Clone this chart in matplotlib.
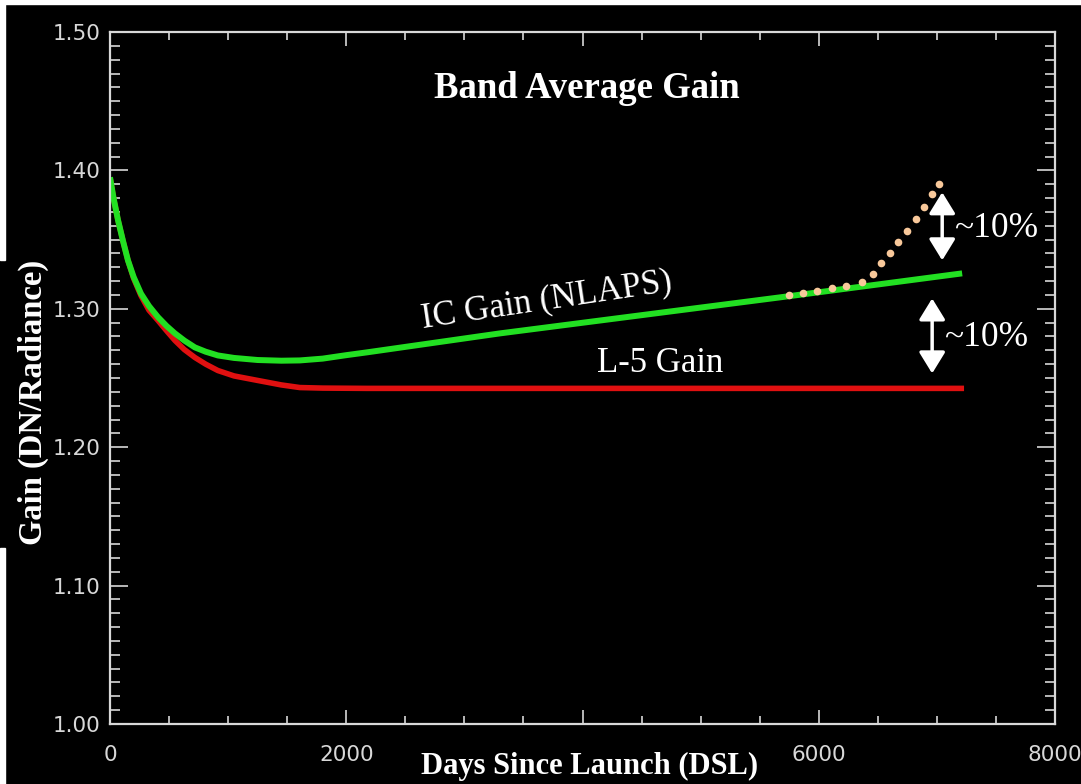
import matplotlib
matplotlib.use('Agg')
import matplotlib.pyplot as plt
from matplotlib.patches import Rectangle
from matplotlib.ticker import MultipleLocator

# 曲線の読み取り値 (日数, ゲイン)
ic_days = [0, 30, 68, 110, 152, 200, 262, 330, 406, 480, 550, 630, 719, 810, 913,
           1050, 1250, 1450, 1607, 1800, 2000, 2173, 3298, 5666, 7214]
ic_gain = [1.395, 1.380, 1.364, 1.349, 1.335, 1.323, 1.311, 1.302, 1.294, 1.2875, 1.2822,
           1.277, 1.2721, 1.269, 1.2663, 1.2645, 1.2630, 1.2625, 1.2627, 1.264, 1.2665,
           1.2685, 1.2822, 1.3082, 1.3256]

l5_days = [0, 30, 68, 110, 152, 200, 262, 330, 406, 480, 550, 630, 719, 810, 913,
           1050, 1252, 1450, 1607, 1800, 2173, 7230]
l5_gain = [1.395, 1.380, 1.364, 1.349, 1.335, 1.322, 1.3095, 1.299, 1.2916, 1.284, 1.2771,
           1.2705, 1.2648, 1.260, 1.2554, 1.2515, 1.2482, 1.2450, 1.2431, 1.2427, 1.2425,
           1.2425]

dot_days = [5751, 5869, 5988, 6114, 6233, 6368, 6461, 6529, 6605, 6673, 6749, 6825, 6892, 6960, 7019]
dot_gain = [1.3097, 1.3111, 1.3126, 1.3148, 1.3162, 1.3191, 1.3249, 1.3329, 1.3401, 1.3480,
            1.3560, 1.3647, 1.3734, 1.3828, 1.3900]

x_ticks = [0, 2000, 4000, 6000, 8000]
x_labels = ['0', '2000', '', '6000', '8000']
y_ticks = [1.00, 1.10, 1.20, 1.30, 1.40, 1.50]
y_labels = ['1.00', '1.10', '1.20', '1.30', '1.40', '1.50']

fg = '#d8d8d8'
serif = 'Liberation Serif'

fig = plt.figure(figsize=(10.81, 7.84), dpi=100, facecolor='black')
ax = fig.add_axes([110 / 1081, 1 - 724 / 784, 945 / 1081, 692 / 784])
ax.set_facecolor('black')

ax.plot(l5_days, l5_gain, color='#e01010', lw=4.0, solid_capstyle='butt', solid_joinstyle='round')
ax.plot(ic_days, ic_gain, color='#22e022', lw=4.3, solid_capstyle='butt', solid_joinstyle='round')
ax.plot(dot_days, dot_gain, ls='none', marker='o', ms=5.5, color='#f8c89a', mec='none')

ax.set_xlim(0, 8000)
ax.set_ylim(1.0, 1.5)
ax.set_xticks(x_ticks, labels=x_labels)
ax.set_yticks(y_ticks, labels=y_labels)
ax.xaxis.set_minor_locator(MultipleLocator(500))
ax.yaxis.set_minor_locator(MultipleLocator(0.01))

for s in ax.spines.values():
    s.set_color(fg)
    s.set_linewidth(1.6)
ax.tick_params(which='both', direction='in', colors=fg, top=True, right=True, width=1.2)
ax.tick_params(axis='x', which='major', length=10, pad=15, labelsize=15.5)
ax.tick_params(axis='x', which='minor', length=5.5)
ax.tick_params(axis='y', which='major', length=13, pad=7, labelsize=15.5)
ax.tick_params(axis='y', which='minor', length=7)

ax.set_xlabel('Days Since Launch (DSL)', family=serif, fontweight='bold', fontsize=22,
              color='white', va='center')
ax.xaxis.set_label_coords(0.508, -0.062)
ax.set_ylabel('Gain (DN/Radiance)', family=serif, fontweight='bold', fontsize=23.5,
              color='white', va='center')
ax.yaxis.set_label_coords(-0.0815, 0.464)

ax.text(0.5048, 0.919, 'Band Average Gain', transform=ax.transAxes, family=serif,
        fontweight='bold', fontsize=26.5, color='white', ha='center', va='center')

ax.text(3696, 1.306, 'IC Gain (NLAPS)', family=serif, fontsize=25, color='white',
        ha='center', va='center', rotation=8.5, rotation_mode='anchor')
ax.text(4660, 1.2605, 'L-5 Gain', family=serif, fontsize=25, color='white',
        ha='center', va='center')
ax.text(7501, 1.3582, '~10%', family=serif, fontsize=25.5, color='white',
        ha='center', va='center')
ax.text(7417, 1.2793, '~10%', family=serif, fontsize=25.5, color='white',
        ha='center', va='center')

arrow = dict(arrowstyle='<|-|>,head_length=0.65,head_width=0.4', color='white', lw=2.5,
             mutation_scale=20, shrinkA=0, shrinkB=0)
ax.annotate('', xy=(7045, 1.3842), xytext=(7045, 1.3350), arrowprops=arrow)
ax.annotate('', xy=(6960, 1.3075), xytext=(6960, 1.2533), arrowprops=arrow)

# 元画像の上端と左端の白い縁
fig.patches.append(Rectangle((0, 1 - 4 / 784), 1, 4 / 784, transform=fig.transFigure,
                             color='white', zorder=5))
fig.patches.append(Rectangle((0, 1 - 260 / 784), 5 / 1081, 260 / 784, transform=fig.transFigure,
                             color='white', zorder=5))
fig.patches.append(Rectangle((0, 0), 5 / 1081, 1 - 548 / 784, transform=fig.transFigure,
                             color='white', zorder=5))

plt.savefig('out.png', dpi=100, facecolor='black')
plt.close()
